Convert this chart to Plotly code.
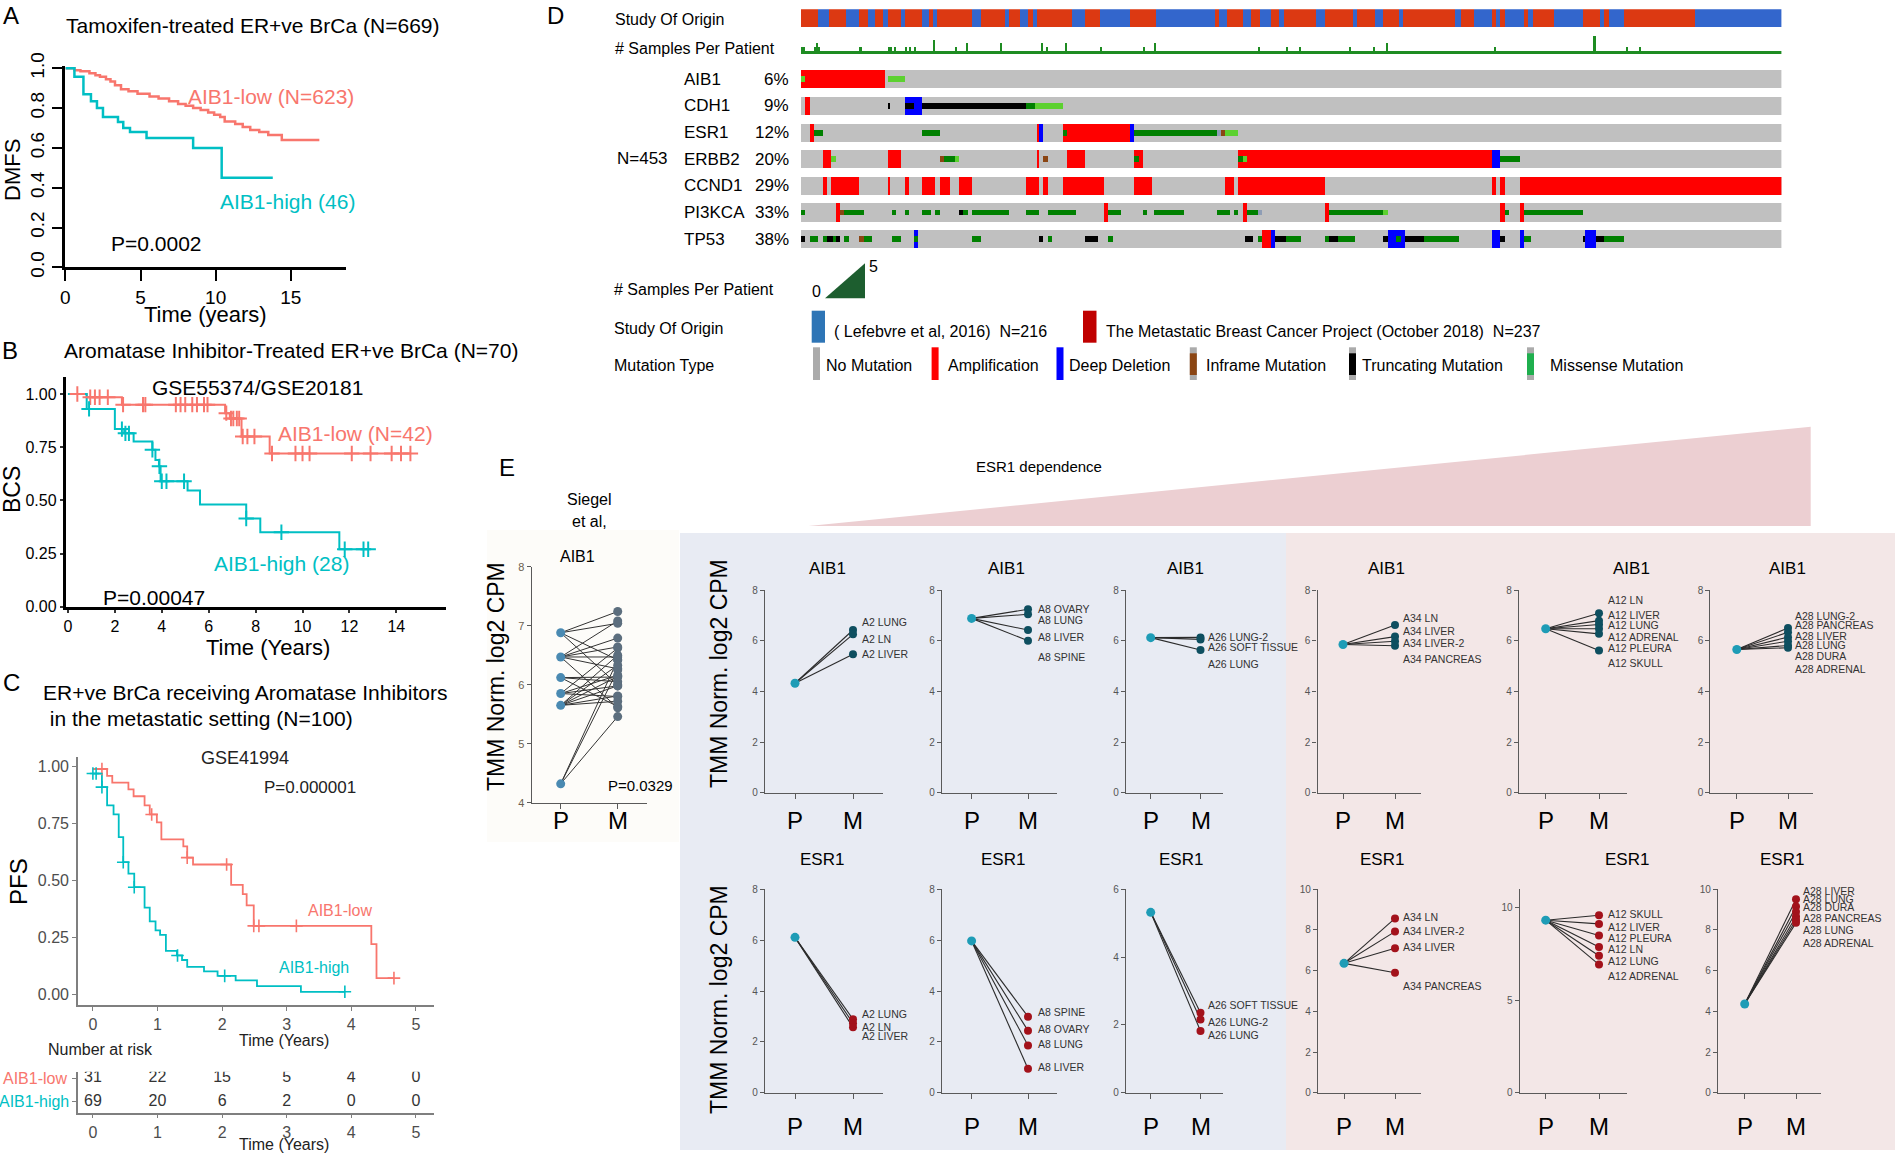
import plotly.graph_objects as go

W, H = 1899, 1154
FONT = "Liberation Sans, Arial, sans-serif"
NARROW = "Liberation Sans Narrow, Liberation Sans, Arial, sans-serif"
LOW_C, HIGH_C = "#F8766D", "#00BFC4"

# ------------------------------------------------------------------ data
# Panel A (Tamoxifen, DMFS) step curves
A_LOW_T = [0, 0.6, 1.0, 1.6, 2.0, 2.3, 2.7, 3.0, 3.3, 3.7, 4.2, 4.8, 5.6, 6.2, 6.9, 7.5, 8.0, 8.5,
           9.0, 9.5, 9.9, 10.3, 10.6, 11.3, 11.8, 12.3, 12.9, 13.5, 14.4, 16.9]
A_LOW_S = [1.0, 0.99, 0.985, 0.975, 0.965, 0.958, 0.945, 0.933, 0.915, 0.895, 0.885, 0.872, 0.858,
           0.848, 0.835, 0.82, 0.812, 0.80, 0.79, 0.778, 0.766, 0.755, 0.732, 0.72, 0.705, 0.69,
           0.68, 0.665, 0.64, 0.64]
A_HIGH_T = [0, 0.6, 1.2, 1.7, 2.1, 2.5, 3.5, 3.85, 4.3, 5.4, 8.5, 10.4, 13.8]
A_HIGH_S = [1.0, 0.957, 0.87, 0.835, 0.80, 0.755, 0.73, 0.70, 0.68, 0.65, 0.60, 0.45, 0.45]

# Panel B (AI treated, BCS)
B_LOW_T = [0, 0.8, 2.3, 6.7, 6.9, 7.4, 8.6, 14.6]
B_LOW_S = [1.0, 0.985, 0.95, 0.91, 0.885, 0.80, 0.72, 0.72]
B_LOW_CENS = [0.4, 0.95, 1.15, 1.35, 1.7, 2.35, 3.2, 3.3, 4.6, 4.8, 5.0, 5.3, 5.5, 5.8, 5.95, 6.75,
              6.95, 7.05, 7.2, 7.3, 7.45, 7.65, 7.95, 8.7, 9.7, 10.0, 10.3, 12.1, 12.9, 13.8, 14.2, 14.6]
B_HIGH_T = [0, 0.8, 2.0, 2.4, 2.8, 3.6, 3.73, 3.88, 3.95, 5.1, 5.63, 7.6, 8.2, 11.57, 12.8]
B_HIGH_S = [1.0, 0.93, 0.835, 0.815, 0.777, 0.738, 0.69, 0.66, 0.59, 0.546, 0.48, 0.415, 0.35, 0.27, 0.27]
B_HIGH_CENS = [0.9, 2.3, 2.45, 2.6, 3.6, 3.9, 4.0, 4.2, 4.95, 7.6, 9.1, 11.8, 12.6, 12.8]

# Panel C (metastatic AI, PFS)
C_LOW_T = [0, 0.22, 0.3, 0.55, 0.63, 0.8, 0.88, 0.99, 1.06, 1.4, 1.46, 1.55, 2.14, 2.32, 2.38, 2.49,
           4.31, 4.39, 4.66]
C_LOW_S = [0.99, 0.96, 0.93, 0.90, 0.87, 0.83, 0.79, 0.755, 0.68, 0.65, 0.60, 0.57, 0.48, 0.44, 0.39,
           0.30, 0.22, 0.07, 0.07]
C_LOW_CENS = [0.14, 0.91, 1.46, 2.07, 2.49, 2.57, 3.15, 4.66]
C_HIGH_T = [0, 0.14, 0.22, 0.32, 0.40, 0.47, 0.55, 0.64, 0.80, 0.88, 0.97, 1.04, 1.13, 1.30, 1.38,
            1.46, 1.72, 1.93, 2.21, 2.54, 3.22, 3.9]
C_HIGH_S = [0.97, 0.91, 0.83, 0.79, 0.69, 0.58, 0.53, 0.47, 0.38, 0.32, 0.28, 0.26, 0.19, 0.17, 0.15,
            0.12, 0.10, 0.08, 0.06, 0.035, 0.01, 0.01]
C_HIGH_CENS = [0.0, 0.05, 0.14, 0.47, 0.64, 1.31, 2.04, 3.9]
RISK_TIMES = [0, 1, 2, 3, 4, 5]
RISK_LOW = [31, 22, 15, 5, 4, 0]
RISK_HIGH = [69, 20, 6, 2, 0, 0]

# Panel D (oncoprint, 453 patients)
N_PATIENTS = 453
STUDY_STARTS = [0, 8, 13, 21, 27, 31, 34, 38, 40, 46, 48, 56, 59, 61, 63, 79, 83, 94, 96, 101, 105,
                107, 109, 125, 131, 138, 152, 164, 191, 193, 197, 204, 208, 212, 217, 221, 223, 238,
                242, 255, 257, 265, 269, 276, 278, 302, 305, 311, 319, 321, 323, 325, 334, 336, 338,
                348, 361, 369, 371, 373, 380, 413]
STUDY_FIRST = "MBC"  # segments alternate MBC / Lefebvre starting with MBC
SAMPLES_MULTI = {0: 2, 1: 2, 6: 2, 7: 3, 8: 2, 27: 2, 40: 2, 41: 2, 43: 2, 48: 2, 50: 2, 52: 2, 61: 4,
                 71: 2, 76: 3, 92: 3, 111: 3, 113: 2, 122: 3, 138: 2, 158: 2, 163: 3, 211: 2, 224: 2,
                 230: 2, 253: 2, 264: 2, 270: 3, 320: 2, 366: 5, 381: 2, 387: 2}
GENES = ["AIB1", "CDH1", "ESR1", "ERBB2", "CCND1", "PI3KCA", "TP53"]
GENE_PCT = ["6%", "9%", "12%", "20%", "29%", "33%", "38%"]
# (start column, end column, code) A=amp D=deep del T=truncating M=missense m=missense(light) I=inframe O=other
ALTERATIONS = {
    "AIB1": [(0, 39, 'A'), (0, 2, 'm'), (40, 48, 'm')],
    "CDH1": [(2, 4, 'A'), (40, 41, 'T'), (48, 56, 'D'), (48, 52, 'T'), (56, 104, 'T'), (104, 108, 'M'),
             (108, 121, 'm')],
    "ESR1": [(4, 6, 'A'), (6, 10, 'M'), (56, 64, 'M'), (109, 110, 'A'), (110, 112, 'D'), (121, 152, 'A'),
             (121, 123, 'M'), (152, 154, 'D'), (154, 192, 'M'), (192, 194, 'O'), (194, 196, 'I'),
             (196, 202, 'm')],
    "ERBB2": [(10, 14, 'A'), (14, 16, 'm'), (40, 46, 'A'), (64, 66, 'I'), (66, 71, 'M'), (71, 73, 'm'),
              (109, 110, 'A'), (112, 114, 'I'), (123, 131, 'A'), (154, 158, 'A'), (154, 156, 'M'),
              (202, 319, 'A'), (202, 204, 'M'), (204, 206, 'm'), (319, 323, 'D'), (323, 332, 'M')],
    "CCND1": [(10, 12, 'A'), (14, 27, 'A'), (40, 41, 'A'), (48, 50, 'A'), (56, 62, 'A'), (64, 69, 'A'),
              (73, 79, 'A'), (104, 110, 'A'), (112, 114, 'A'), (121, 140, 'A'), (154, 162, 'A'),
              (196, 200, 'A'), (202, 242, 'A'), (319, 321, 'A'), (323, 325, 'A'), (332, 453, 'A')],
    "PI3KCA": [(0, 2, 'M'), (16, 18, 'A'), (18, 20, 'I'), (20, 29, 'M'), (42, 44, 'M'), (48, 50, 'M'),
               (56, 60, 'M'), (62, 64, 'M'), (73, 75, 'T'), (75, 77, 'M'), (79, 96, 'M'), (104, 110, 'M'),
               (114, 127, 'M'), (140, 142, 'A'), (142, 148, 'M'), (158, 160, 'M'), (163, 177, 'M'),
               (192, 198, 'M'), (200, 202, 'M'), (204, 206, 'A'), (206, 211, 'M'), (211, 213, 'O'),
               (242, 244, 'A'), (244, 269, 'M'), (269, 271, 'm'), (323, 325, 'A'), (325, 327, 'M'),
               (332, 334, 'A'), (334, 361, 'M')],
    "TP53": [(0, 2, 'T'), (4, 8, 'M'), (10, 12, 'M'), (12, 15, 'T'), (15, 16, 'M'), (16, 18, 'T'),
             (20, 22, 'M'), (27, 29, 'I'), (29, 33, 'M'), (42, 46, 'M'), (52, 54, 'D'), (52, 54, 'M'),
             (79, 83, 'M'), (110, 112, 'T'), (114, 116, 'M'), (131, 137, 'T'), (142, 144, 'M'),
             (205, 209, 'T'), (211, 213, 'M'), (213, 217, 'A'), (217, 219, 'D'), (219, 224, 'T'),
             (224, 231, 'M'), (242, 244, 'M'), (244, 248, 'T'), (248, 256, 'M'), (269, 271, 'T'),
             (271, 279, 'D'), (275, 277, 'M'), (279, 288, 'T'), (288, 304, 'M'), (319, 323, 'D'),
             (323, 325, 'T'), (332, 334, 'D'), (334, 337, 'M'), (361, 362, 'T'), (362, 367, 'D'),
             (367, 371, 'T'), (371, 380, 'M')],
}

# Panel E (paired primary / metastasis)
PATIENTS = ["A2", "A8", "A26", "A34", "A12", "A28"]
AIB1_P = [4.32, 6.88, 6.12, 5.85, 6.47, 5.65]
AIB1_M = [[6.42, 6.25, 5.46], [7.24, 7.04, 6.42, 6.0], [6.13, 6.05, 5.63], [6.62, 6.16, 5.98, 5.8],
          [7.08, 6.79, 6.64, 6.47, 6.27, 5.61], [6.5, 6.33, 6.14, 5.98, 5.81, 5.72]]
AIB1_LABELS = [["A2 LUNG", "A2 LN", "A2 LIVER"], ["A8 OVARY", "A8 LUNG", "A8 LIVER", "A8 SPINE"],
               ["A26 LUNG-2", "A26 SOFT TISSUE", "A26 LUNG"],
               ["A34 LN", "A34 LIVER", "A34 LIVER-2", "A34 PANCREAS"],
               ["A12 LN", "A12 LIVER", "A12 LUNG", "A12 ADRENAL", "A12 PLEURA", "A12 SKULL"],
               ["A28 LUNG-2", "A28 PANCREAS", "A28 LIVER", "A28 LUNG", "A28 DURA", "A28 ADRENAL"]]
AIB1_LABEL_Y = [[6.75, 6.05, 5.46], [7.24, 6.82, 6.13, 5.37], [6.16, 5.74, 5.07], [6.9, 6.4, 5.92, 5.26],
                [7.6, 7.02, 6.62, 6.14, 5.72, 5.12], [6.99, 6.62, 6.2, 5.81, 5.38, 4.9]]
ESR1_P = [6.11, 5.97, 5.32, 6.36, 9.33, 4.36]
ESR1_M = [[2.89, 2.73, 2.57], [2.99, 2.44, 1.86, 0.94], [2.36, 2.16, 1.82], [8.57, 7.92, 7.1, 5.9],
          [9.6, 9.13, 8.5, 7.88, 7.41, 6.93], [9.51, 9.15, 8.9, 8.66, 8.49, 8.35]]
ESR1_LABELS = [["A2 LUNG", "A2 LN", "A2 LIVER"], ["A8 SPINE", "A8 OVARY", "A8 LUNG", "A8 LIVER"],
               ["A26 SOFT TISSUE", "A26 LUNG-2", "A26 LUNG"],
               ["A34 LN", "A34 LIVER-2", "A34 LIVER", "A34 PANCREAS"],
               ["A12 SKULL", "A12 LIVER", "A12 PLEURA", "A12 LN", "A12 LUNG", "A12 ADRENAL"],
               ["A28 LIVER", "A28 LUNG", "A28 DURA", "A28 PANCREAS", "A28 LUNG", "A28 ADRENAL"]]
ESR1_LABEL_Y = [[3.1, 2.57, 2.24], [3.16, 2.49, 1.91, 1.0], [2.59, 2.1, 1.7], [8.66, 7.97, 7.18, 5.25],
                [9.64, 8.97, 8.34, 7.78, 7.14, 6.33], [9.92, 9.52, 9.11, 8.57, 8.0, 7.34]]
ESR1_YMAX = [8, 8, 6, 10, 11, 10]
ESR1_YSTEP = [2, 2, 2, 2, 5, 2]

# ------------------------------------------------------------------ helpers
def PX(x):
    return x / W


def PY(y):
    return 1 - y / H


fig = go.Figure()
layout = {}
annotations = []
shapes = []


def ref(i, letter):
    return letter if i == 1 else f"{letter}{i}"


def add_axes(i, xdom, ydom, xrange, yrange, xopts=None, yopts=None):
    base = dict(showgrid=False, zeroline=False, showline=False, showticklabels=False, ticks='',
                fixedrange=True, automargin=False)
    xa = dict(base, domain=[PX(xdom[0]), PX(xdom[1])], range=xrange, anchor=ref(i, 'y'))
    ya = dict(base, domain=[PY(ydom[1]), PY(ydom[0])], range=yrange, anchor=ref(i, 'x'))
    xa.update(xopts or {})
    ya.update(yopts or {})
    layout['xaxis' if i == 1 else f'xaxis{i}'] = xa
    layout['yaxis' if i == 1 else f'yaxis{i}'] = ya


def ann(text, x, y, size, color="black", xanchor="center", yanchor="middle", xref="paper",
        yref="paper", angle=0, family=FONT, xshift=0):
    annotations.append(dict(text=text, x=x, y=y, xref=xref, yref=yref, showarrow=False,
                            xanchor=xanchor, yanchor=yanchor, textangle=angle, xshift=xshift,
                            font=dict(family=family, size=size, color=color)))


def annp(text, x, y, size, **kw):
    ann(text, PX(x), PY(y), size, **kw)


def rect(x0, y0, x1, y1, color, layer="below"):
    shapes.append(dict(type="rect", xref="paper", yref="paper", x0=PX(x0), x1=PX(x1), y0=PY(y1),
                       y1=PY(y0), fillcolor=color, line=dict(width=0), layer=layer))


def surv_at(ts, ss, t):
    val = ss[0]
    for ti, si in zip(ts, ss):
        if ti <= t:
            val = si
    return val


def km(i, T, S, color, width):
    fig.add_trace(go.Scatter(x=T, y=S, mode="lines", line=dict(color=color, width=width, shape="hv"),
                             xaxis=ref(i, 'x'), yaxis=ref(i, 'y'), hoverinfo="skip"))


def cens(i, T, S, times, color, size, lw):
    fig.add_trace(go.Scatter(x=times, y=[surv_at(T, S, t) for t in times], mode="markers",
                             marker=dict(symbol="cross-thin", size=size,
                                         line=dict(color=color, width=lw)),
                             xaxis=ref(i, 'x'), yaxis=ref(i, 'y'), hoverinfo="skip"))


# ------------------------------------------------------------------ backgrounds (panel E)
rect(487, 530, 679, 842, "#FDFCF9")
rect(680, 533, 1286, 1150, "#E8EBF3")
rect(1286, 533, 1895, 1150, "#F3E7E7")
shapes.append(dict(type="path", xref="paper", yref="paper",
                   path=f"M {PX(808.6)},{PY(526)} L {PX(1810.7)},{PY(426.7)} L {PX(1810.7)},{PY(526)} Z",
                   fillcolor="#ECCFD2", line=dict(width=0), layer="below"))

# ------------------------------------------------------------------ Panel A
blk = dict(showline=True, linecolor="black", linewidth=2.5, ticks="outside", ticklen=11, tickwidth=2,
           tickcolor="black", showticklabels=True, tickfont=dict(family=FONT, size=19, color="black"))
add_axes(1, (65.4, 346.4), (66.3, 267.3), [0, 18.7], [0, 1.01],
         dict(blk, tickvals=[0, 5, 10, 15]),
         dict(blk, tickvals=[0, 0.2, 0.4, 0.6, 0.8, 1.0],
              ticktext=["0.0", "0.2", "0.4", "0.6", "0.8", "1.0"], tickangle=-90))
km(1, A_LOW_T, A_LOW_S, LOW_C, 2.5)
km(1, A_HIGH_T, A_HIGH_S, HIGH_C, 2.5)
annp("A", 11, 16, 24)
annp("Tamoxifen-treated ER+ve BrCa (N=669)", 253, 25, 21)
annp("AIB1-low (N=623)", 271, 97, 21, color=LOW_C)
annp("AIB1-high (46)", 287, 202, 21, color=HIGH_C)
annp("P=0.0002", 156, 243, 21)
annp("DMFS", 13, 170, 22, angle=-90)
annp("Time (years)", 205, 315, 22)

# ------------------------------------------------------------------ Panel B
blkB = dict(showline=True, linecolor="black", linewidth=2.7, ticks="outside", ticklen=3, tickwidth=1.5,
            tickcolor="#333", showticklabels=True, tickfont=dict(family=FONT, size=16, color="black"))
add_axes(2, (65.6, 446.3), (377, 606.7), [-0.1, 16.13], [0, 1.08],
         dict(blkB, tickvals=[0, 2, 4, 6, 8, 10, 12, 14]),
         dict(blkB, tickvals=[0, 0.25, 0.5, 0.75, 1.0], ticktext=["0.00", "0.25", "0.50", "0.75", "1.00"]))
km(2, B_LOW_T, B_LOW_S, LOW_C, 2)
km(2, B_HIGH_T, B_HIGH_S, HIGH_C, 2)
cens(2, B_LOW_T, B_LOW_S, B_LOW_CENS, LOW_C, 11, 2)
cens(2, B_HIGH_T, B_HIGH_S, B_HIGH_CENS, HIGH_C, 11, 2)
annp("B", 10, 350, 24)
annp("Aromatase Inhibitor-Treated ER+ve BrCa (N=70)", 291, 350, 21)
annp("GSE55374/GSE20181", 257, 387, 21)
annp("AIB1-low (N=42)", 355, 434, 21, color=LOW_C)
annp("AIB1-high (28)", 281, 563, 21, color=HIGH_C)
annp("P=0.00047", 154, 597, 21)
annp("BCS", 12, 490, 23, angle=-90)
annp("Time (Years)", 268, 647, 22)

# ------------------------------------------------------------------ Panel C
gry = dict(showline=True, linecolor="#7F7F7F", linewidth=1.5, ticks="outside", ticklen=4, tickwidth=1.2,
           tickcolor="#7F7F7F", showticklabels=True, tickfont=dict(family=FONT, size=16, color="#4D4D4D"))
add_axes(3, (77.9, 434), (756.7, 1005), [-0.232, 5.28], [-0.048, 1.044],
         dict(gry, tickvals=RISK_TIMES),
         dict(gry, tickvals=[0, 0.25, 0.5, 0.75, 1.0], ticktext=["0.00", "0.25", "0.50", "0.75", "1.00"]))
km(3, C_LOW_T, C_LOW_S, LOW_C, 1.8)
km(3, C_HIGH_T, C_HIGH_S, HIGH_C, 1.8)
cens(3, C_LOW_T, C_LOW_S, C_LOW_CENS, LOW_C, 9, 1.6)
cens(3, C_HIGH_T, C_HIGH_S, C_HIGH_CENS, HIGH_C, 9, 1.6)
annp("C", 11, 682, 24)
annp("ER+ve BrCa receiving Aromatase Inhibitors", 41, 692, 21, xanchor="left")
annp(" in the metastatic setting (N=100)", 42, 718, 21, xanchor="left")
annp("GSE41994", 245, 758, 18, color="#222")
annp("P=0.000001", 310, 787, 17, color="#222")
annp("AIB1-low", 340, 910, 16, color=LOW_C)
annp("AIB1-high", 314, 967, 16, color=HIGH_C)
annp("PFS", 18, 882, 24, angle=-90)
annp("Time (Years)", 284, 1040, 16, color="#222")

# risk table
add_axes(4, (77.9, 434), (1071.7, 1112.7), [-0.232, 5.28], [0.53, 2.28],
         dict(gry, tickvals=RISK_TIMES),
         dict(gry, tickvals=[1, 2], showticklabels=False))
fig.add_trace(go.Scatter(x=RISK_TIMES, y=[2] * len(RISK_TIMES), mode="text",
                         text=[str(v) for v in RISK_LOW], textfont=dict(family=FONT, size=16, color="#333"),
                         xaxis="x4", yaxis="y4", hoverinfo="skip"))
fig.add_trace(go.Scatter(x=RISK_TIMES, y=[1] * len(RISK_TIMES), mode="text",
                         text=[str(v) for v in RISK_HIGH], textfont=dict(family=FONT, size=16, color="#333"),
                         xaxis="x4", yaxis="y4", hoverinfo="skip"))
ann("AIB1-low", PX(69), 2, 16, color=LOW_C, xanchor="right", yref="y4")
ann("AIB1-high", PX(71), 1, 16, color=HIGH_C, xanchor="right", yref="y4")
annp("Number at risk", 46, 1049, 16, color="#222", xanchor="left")
annp("Time (Years)", 284, 1144, 16, color="#222")

# ------------------------------------------------------------------ Panel D (oncoprint)
XD = (800.7, 1781.4)
add_axes(5, XD, (9.3, 27.7), [0, N_PATIENTS], [0, 1])
add_axes(6, XD, (35.7, 54.0), [0, N_PATIENTS], [0, 5])
add_axes(7, XD, (65.9, 252.5), [0, N_PATIENTS], [6.5, -0.5])

study_colors = {"MBC": "#DC3912", "LEF": "#3366CC"}
bounds = STUDY_STARTS + [N_PATIENTS]
for code in ("MBC", "LEF"):
    bases, lens = [], []
    for k in range(len(STUDY_STARTS)):
        c = STUDY_FIRST if k % 2 == 0 else ("LEF" if STUDY_FIRST == "MBC" else "MBC")
        if c == code:
            bases.append(bounds[k])
            lens.append(bounds[k + 1] - bounds[k])
    fig.add_trace(go.Bar(orientation="h", y=[0.5] * len(bases), x=lens, base=bases, width=1,
                         marker=dict(color=study_colors[code], line=dict(width=0)),
                         xaxis="x5", yaxis="y5", hoverinfo="skip"))

samples = [SAMPLES_MULTI.get(c, 1) for c in range(N_PATIENTS)]
fig.add_trace(go.Bar(x=[c + 0.5 for c in range(N_PATIENTS)], y=samples, width=1,
                     marker=dict(color="#1E8C22", line=dict(width=0)),
                     xaxis="x6", yaxis="y6", hoverinfo="skip"))

FULL_W, SMALL_W = 0.686, 0.215
fig.add_trace(go.Bar(orientation="h", y=list(range(len(GENES))), x=[N_PATIENTS] * len(GENES),
                     base=[0] * len(GENES), width=FULL_W,
                     marker=dict(color="#C0C0C0", line=dict(width=0)),
                     xaxis="x7", yaxis="y7", hoverinfo="skip"))
CODE_STYLE = [('A', "#FF0000", FULL_W), ('D', "#0000FF", FULL_W), ('I', "#8B4513", SMALL_W),
              ('T', "#000000", SMALL_W), ('M', "#008000", SMALL_W), ('m', "#5CD130", SMALL_W),
              ('O', "#8E9DB5", SMALL_W)]
for code, color, wd in CODE_STYLE:
    ys, xs, bs = [], [], []
    for gi, g in enumerate(GENES):
        for s, e, c in ALTERATIONS[g]:
            if c == code:
                ys.append(gi)
                bs.append(s)
                xs.append(e - s)
    if ys:
        fig.add_trace(go.Bar(orientation="h", y=ys, x=xs, base=bs, width=wd,
                             marker=dict(color=color, line=dict(width=0)),
                             xaxis="x7", yaxis="y7", hoverinfo="skip"))

annp("D", 555, 16, 24)
annp("Study Of Origin", 613, 19.3, 16, xanchor="left")
annp("# Samples Per Patient", 613, 48.3, 16, xanchor="left")
for gi, g in enumerate(GENES):
    ann(g, PX(682.4), gi, 17, xanchor="left", yref="y7")
    ann(GENE_PCT[gi], PX(791), gi, 17, xanchor="right", yref="y7")
annp("N=453", 615, 158.3, 17, xanchor="left")

# legend of D
annp("# Samples Per Patient", 612, 289.3, 16, xanchor="left")
annp("0", 816, 292, 16)
shapes.append(dict(type="path", xref="paper", yref="paper",
                   path=f"M {PX(825)},{PY(298.3)} L {PX(865)},{PY(263.3)} L {PX(865)},{PY(298.3)} Z",
                   fillcolor="#1D5E2F", line=dict(width=0)))
annp("5", 873.5, 266.7, 16)
annp("Study Of Origin", 612, 328.3, 16, xanchor="left")
rect(811.7, 310.7, 825, 342.7, "#2E75B6", layer="above")
annp("( Lefebvre et al, 2016)  N=216", 832, 331.7, 16, xanchor="left")
rect(1083, 310.7, 1096.5, 342.7, "#C00000", layer="above")
annp("The Metastatic Breast Cancer Project (October 2018)  N=237", 1104, 331.7, 16, xanchor="left")
annp("Mutation Type", 612, 365, 16, xanchor="left")
LEG_ITEMS = [("No Mutation", None, 813, 823.6), ("Amplification", "#FF0000", 931.6, 946.4),
             ("Deep Deletion", "#0000FF", 1056.5, 1067), ("Inframe Mutation", "#8B4513", 1189.8, 1203.8),
             ("Truncating Mutation", "#000000", 1349, 1359.6), ("Missense Mutation", "#1FAF4E", 1527, 1547.6)]
for k, (lab, col, sx, tx) in enumerate(LEG_ITEMS):
    if col is None or k in (1, 2):
        rect(sx, 347.3, sx + 7, 380, col or "#ABABAB", layer="above")
    else:
        rect(sx, 347.3, sx + 7, 380, "#ABABAB", layer="above")
        rect(sx, 353.3, sx + 7, 375, col, layer="above")
    annp(lab, tx, 365, 16, xanchor="left")

# ------------------------------------------------------------------ Panel E
small_ax = dict(showline=True, linecolor="#5A5A5A", linewidth=1.2, ticks="outside", ticklen=4, tickwidth=1,
                tickcolor="#5A5A5A", showticklabels=True, tickfont=dict(family=FONT, size=10, color="#555"))
xsmall = dict(showline=True, linecolor="#5A5A5A", linewidth=1.2, ticks="outside", ticklen=5, tickwidth=1,
              tickcolor="#5A5A5A", tickvals=[0, 1], showticklabels=False)


def xr(left, p, m, right):
    u = m - p
    return [(left - p) / u, (right - p) / u]


# Siegel et al. combined panel
add_axes(8, (531.7, 646.7), (566.7, 802.7), xr(531.7, 560.7, 617.7, 646.7), [4, 8],
         dict(xsmall), dict(small_ax, tickvals=[4, 5, 6, 7, 8], tickfont=dict(family=FONT, size=11, color="#6B5E4E")))
for p, ms in zip(AIB1_P, AIB1_M):
    for m in ms:
        fig.add_trace(go.Scatter(x=[0, 1], y=[p, m], mode="lines", line=dict(color="#333", width=1),
                                 xaxis="x8", yaxis="y8", hoverinfo="skip"))
fig.add_trace(go.Scatter(x=[0] * len(AIB1_P), y=AIB1_P, mode="markers",
                         marker=dict(color="#4A8AB2", size=9), xaxis="x8", yaxis="y8", hoverinfo="skip"))
allm = [m for ms in AIB1_M for m in ms]
fig.add_trace(go.Scatter(x=[1] * len(allm), y=allm, mode="markers",
                         marker=dict(color="#5C6E7E", size=9), xaxis="x8", yaxis="y8", hoverinfo="skip"))
annp("E", 507, 467, 24)
annp("Siegel", 589, 499, 16)
annp("et al,", 589, 521, 16)
annp("AIB1", 577, 557, 16)
annp("P=0.0329", 640, 785, 15)
annp("TMM Norm. log2 CPM", 496, 677, 23, angle=-90)
ann("P", 0, PY(820), 24, xref="x8")
ann("M", 1, PY(820), 24, xref="x8")

annp("ESR1 dependence", 1039, 466.7, 15)

TOP_X = [(765, 795, 853, 883), (942, 971.6, 1028, 1057), (1125.8, 1150.7, 1200.5, 1223.4),
         (1317.5, 1343, 1395, 1421), (1518.8, 1545.7, 1599, 1626.6), (1710.3, 1736.8, 1788, 1813)]
BOT_X = [(765, 795, 853, 883), (942, 971.6, 1028, 1057), (1125.8, 1150.7, 1200.5, 1223.4),
         (1318, 1344, 1395, 1421), (1519.6, 1545.7, 1599, 1626.6), (1718, 1744.7, 1796, 1820.8)]
TOP_TITLE_X = [827, 1007, 1185, 1386, 1631, 1787]
BOT_TITLE_X = [822, 1003, 1181, 1382, 1627, 1782]
LABEL_SHIFT = [7, 8, 5, 6, 7, 5]


def pair_panel(i, xs, ydom, ymax, ystep, P, Ms, labels, label_y, mcolor, title, tx, ty, ply, lblsize):
    ticks = list(range(0, ymax + 1, ystep))
    if ymax == 11:
        ticks = [0, 5, 10]
    add_axes(i, (xs[0], xs[3]), ydom, xr(*xs), [0, ymax], dict(xsmall),
             dict(small_ax, tickvals=ticks))
    xa, ya = ref(i, 'x'), ref(i, 'y')
    for m in Ms:
        fig.add_trace(go.Scatter(x=[0, 1], y=[P, m], mode="lines", line=dict(color="#2B2B2B", width=1.1),
                                 xaxis=xa, yaxis=ya, hoverinfo="skip"))
    fig.add_trace(go.Scatter(x=[0], y=[P], mode="markers", marker=dict(color="#1E9CB6", size=9),
                             xaxis=xa, yaxis=ya, hoverinfo="skip"))
    fig.add_trace(go.Scatter(x=[1] * len(Ms), y=Ms, mode="markers", marker=dict(color=mcolor, size=8),
                             xaxis=xa, yaxis=ya, hoverinfo="skip"))
    for lab, ly in zip(labels, label_y):
        ann(lab, 1, ly, lblsize, color="#333", xanchor="left", xref=xa, yref=ya, family=NARROW,
            xshift=LABEL_SHIFT[(i - 9) % 6])
    annp(title, tx, ty, 17)
    ann("P", 0, PY(ply), 24, xref=xa)
    ann("M", 1, PY(ply), 24, xref=xa)


for k in range(6):
    pair_panel(9 + k, TOP_X[k], (590, 792.7), 8, 2, AIB1_P[k], AIB1_M[k], AIB1_LABELS[k], AIB1_LABEL_Y[k],
               "#0E4F60", "AIB1", TOP_TITLE_X[k], 568, 820, 10.5)
for k in range(6):
    pair_panel(15 + k, BOT_X[k], (889.3, 1092.7), ESR1_YMAX[k], ESR1_YSTEP[k], ESR1_P[k], ESR1_M[k],
               ESR1_LABELS[k], ESR1_LABEL_Y[k], "#A3121B", "ESR1", BOT_TITLE_X[k], 859.3, 1126.5, 10.5)
annp("TMM Norm. log2 CPM", 719, 674, 23, angle=-90)
annp("TMM Norm. log2 CPM", 719, 1000, 23, angle=-90)

# ------------------------------------------------------------------ layout
fig.update_layout(width=W, height=H, margin=dict(l=0, r=0, t=0, b=0, autoexpand=False),
                  paper_bgcolor="white", plot_bgcolor="rgba(0,0,0,0)", showlegend=False,
                  barmode="overlay", bargap=0, annotations=annotations, shapes=shapes,
                  font=dict(family=FONT), **layout)
fig.write_html("out.html", config={"displayModeBar": False},
               post_script="document.body.style.margin='0px';")
